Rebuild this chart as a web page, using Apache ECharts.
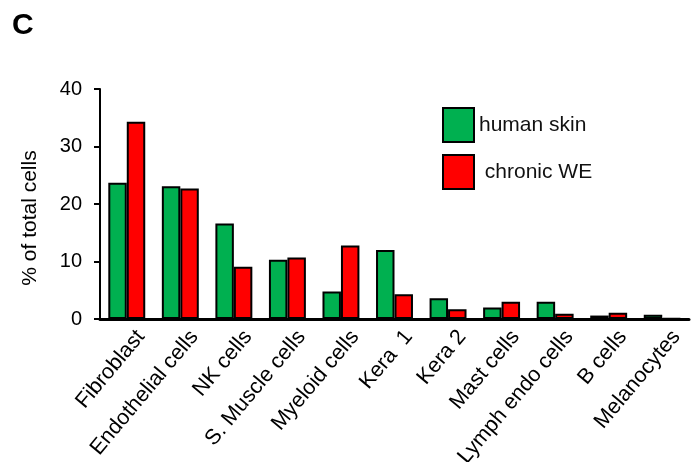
<!DOCTYPE html>
<html>
<head>
<meta charset="utf-8">
<script src="https://cdn.jsdelivr.net/npm/echarts@6/dist/echarts.min.js"></script>
<style>
  html, body { margin: 0; padding: 0; background: #fff; }
  #chart { width: 691px; height: 462px; }
</style>
</head>
<body>
<div id="chart"></div>
<script>
const categories = ['Fibroblast', 'Endothelial cells', 'NK cells', 'S. Muscle cells', 'Myeloid cells',
  'Kera  1', 'Kera 2', 'Mast cells', 'Lymph endo cells', 'B cells', 'Melanocytes']
const humanSkin = [23.7, 23.1, 16.6, 10.3, 4.8, 12.0, 3.6, 2.0, 3.0, 0.6, 0.75]
const chronicWE = [34.3, 22.7, 9.1, 10.7, 12.8, 4.3, 1.7, 3.0, 0.9, 1.1, 0.1]
const yTicks = [0, 10, 20, 30, 40]

const font = 'Arial, "Liberation Sans", sans-serif'
const chart = echarts.init(document.getElementById('chart'))

chart.setOption({
  animation: false,
  title: {
    text: 'C',
    left: 12,
    top: 11,
    padding: 0,
    textStyle: { fontFamily: font, fontSize: 30, fontWeight: 'bold', color: '#000' },
  },
  legend: {
    orient: 'vertical',
    left: 442,
    top: 107,
    padding: 0,
    itemWidth: 31,
    itemHeight: 34,
    itemGap: 11,
    icon: 'rect',
    textStyle: { fontFamily: font, fontSize: 21, color: '#111' },
    formatter: name => (name === 'chronic WE' ? ' ' + name : name),
    data: ['human skin', 'chronic WE'],
  },
  grid: { left: 100, right: 2, top: 89, bottom: 143, containLabel: false, outerBoundsMode: 'none' },
  xAxis: {
    type: 'category',
    data: categories,
    axisLine: { lineStyle: { color: '#000', width: 3 } },
    axisTick: { show: false },
    axisLabel: {
      rotate: 50,
      interval: 0,
      margin: 31,
      padding: [0, -22, 0, 0],
      fontFamily: font,
      fontSize: 21.5,
      color: '#000',
    },
  },
  yAxis: {
    type: 'value',
    min: yTicks[0],
    max: yTicks[yTicks.length - 1],
    interval: 10,
    name: '% of total cells',
    nameLocation: 'middle',
    nameGap: 59,
    nameTextStyle: { fontFamily: font, fontSize: 21, color: '#000', padding: [0, 28, 0, 0] },
    splitLine: { show: false },
    axisLine: { show: true, lineStyle: { color: '#000', width: 2 } },
    axisTick: { show: true, length: 6, lineStyle: { color: '#000', width: 2 } },
    axisLabel: { fontFamily: font, fontSize: 20, color: '#000', margin: 18 },
  },
  series: [
    {
      name: 'human skin',
      type: 'bar',
      data: humanSkin,
      barGap: '0%',
      barCategoryGap: '31%',
      itemStyle: { color: '#00b050', borderColor: '#000', borderWidth: 2 },
    },
    {
      name: 'chronic WE',
      type: 'bar',
      data: chronicWE,
      itemStyle: { color: '#ff0000', borderColor: '#000', borderWidth: 2 },
    },
  ],
})
</script>
</body>
</html>
